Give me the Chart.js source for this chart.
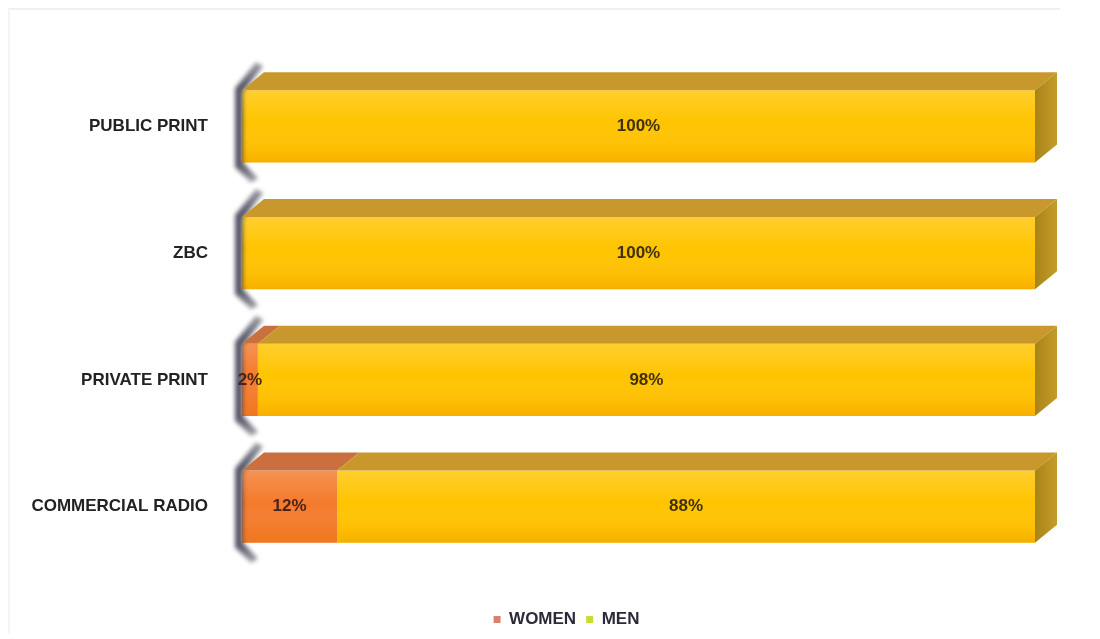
<!DOCTYPE html>
<html>
<head>
<meta charset="utf-8">
<script src="https://cdn.jsdelivr.net/npm/chart.js@4/dist/chart.umd.min.js"></script>
<style>
  html, body { margin: 0; padding: 0; background: #fff; }
  #wrap { position: relative; width: 1100px; height: 639px; }
  #frame { position: absolute; left: 8px; top: 8px; right: 40px; bottom: 6px; border-top: 2px solid #f0f0f0; border-left: 2px solid #f4f4f4; pointer-events: none; }
</style>
</head>
<body>
<div id="wrap">
  <canvas id="chart" width="1100" height="639"></canvas>
  <div id="frame"></div>
</div>
<script>
// categorie e valori (percentuali)
const categories = ['PUBLIC PRINT', 'ZBC', 'PRIVATE PRINT', 'COMMERCIAL RADIO'];
const women = [0, 0, 2, 12];
const men = [100, 100, 98, 88];

// colori delle facce 3D
const faceColors = {
  WOMEN: { front: '#f47a2c', top: '#c9703e', side: '#b85e2a', legend: '#d9826a' },
  MEN: { front: '#ffc400', top: '#c9982c', side: '#b08a1e', legend: '#c9dc30' }
};

const FONT = '"Liberation Sans", Arial, sans-serif';
const DX = 22, DY = 18;

// plugin per disegnare l'effetto 3D e le etichette
const bars3d = {
  id: 'bars3d',
  afterLayout(chart) {
    // sposto la legenda un po' a destra come nell'originale
    if (chart.legend) chart.legend.left += 84;
  },
  afterDatasetsDraw(chart) {
    const ctx = chart.ctx;
    const n = chart.data.datasets.length;

    // "muro" scuro e sfocato a sinistra
    const meta0 = chart.getDatasetMeta(0);
    meta0.data.forEach(el => {
      const top = el.y - el.height / 2;
      const bottom = el.y + el.height / 2;
      const left = Math.min(el.base, el.x);
      ctx.save();
      ctx.filter = 'blur(2px)';
      const gw = ctx.createLinearGradient(0, top - DY - 10, 0, bottom + 20);
      gw.addColorStop(0, 'rgba(80,80,95,0.55)');
      gw.addColorStop(0.2, 'rgba(70,70,88,0.9)');
      gw.addColorStop(0.85, 'rgba(70,70,88,0.9)');
      gw.addColorStop(1, 'rgba(80,80,95,0.5)');
      ctx.fillStyle = gw;
      ctx.beginPath();
      ctx.moveTo(left - 7, top - 2);
      ctx.lineTo(left + 14, top - DY - 10);
      ctx.lineTo(left + 21, top - DY - 6);
      ctx.lineTo(left + 1, top + 2);
      ctx.lineTo(left + 1, bottom);
      ctx.lineTo(left + 16, bottom + 16);
      ctx.lineTo(left + 9, bottom + 20);
      ctx.lineTo(left - 7, bottom + 5);
      ctx.closePath();
      ctx.fill();
      ctx.restore();
    });

    chart.data.datasets.forEach((ds, i) => {
      const meta = chart.getDatasetMeta(i);
      const col = faceColors[ds.label];
      meta.data.forEach((el, j) => {
        if (!ds.data[j]) return;
        const left = Math.min(el.base, el.x);
        const right = Math.max(el.base, el.x);
        const top = el.y - el.height / 2;
        const bottom = el.y + el.height / 2;

        // faccia superiore
        ctx.save();
        ctx.fillStyle = col.top;
        ctx.beginPath();
        ctx.moveTo(left, top);
        ctx.lineTo(left + DX, top - DY);
        ctx.lineTo(right + DX, top - DY);
        ctx.lineTo(right, top);
        ctx.closePath();
        ctx.fill();

        // faccia laterale solo sull'ultima serie
        if (i === n - 1) {
          const g = ctx.createLinearGradient(right, 0, right + DX, 0);
          g.addColorStop(0, '#a88418');
          g.addColorStop(1, '#c49c2a');
          ctx.fillStyle = g;
          ctx.beginPath();
          ctx.moveTo(right, top);
          ctx.lineTo(right + DX, top - DY);
          ctx.lineTo(right + DX, bottom - DY);
          ctx.lineTo(right, bottom);
          ctx.closePath();
          ctx.fill();
        }

        // sfumatura sulla faccia frontale
        const gf = ctx.createLinearGradient(0, top, 0, bottom);
        gf.addColorStop(0, 'rgba(255,255,255,0.18)');
        gf.addColorStop(0.45, 'rgba(255,255,255,0)');
        gf.addColorStop(0.85, 'rgba(230,120,0,0.12)');
        gf.addColorStop(1, 'rgba(220,110,0,0.25)');
        ctx.fillStyle = gf;
        ctx.fillRect(left, top, right - left, bottom - top);
        ctx.restore();
      });
    });

    // etichette dei valori
    ctx.save();
    ctx.font = 'bold 17px ' + FONT;
    ctx.textAlign = 'center';
    ctx.textBaseline = 'middle';
    chart.data.datasets.forEach((ds, i) => {
      const meta = chart.getDatasetMeta(i);
      meta.data.forEach((el, j) => {
        const v = ds.data[j];
        if (!v) return;
        ctx.fillStyle = i === 0 ? '#4a2418' : '#3e3008';
        ctx.fillText(v + '%', (el.base + el.x) / 2, el.y);
      });
    });
    ctx.restore();
  }
};

const ctx = document.getElementById('chart');
new Chart(ctx, {
  type: 'bar',
  data: {
    labels: categories,
    datasets: [
      { label: 'WOMEN', data: women, backgroundColor: faceColors.WOMEN.front, borderWidth: 0 },
      { label: 'MEN', data: men, backgroundColor: faceColors.MEN.front, borderWidth: 0 }
    ]
  },
  options: {
    indexAxis: 'y',
    responsive: false,
    animation: false,
    layout: { padding: { left: 14, right: 65, top: 63, bottom: 1 } },
    barPercentage: 0.57,
    categoryPercentage: 1,
    scales: {
      x: {
        stacked: true, min: 0, max: 100,
        grid: { display: false },
        border: { display: false },
        ticks: { display: false },
        afterFit(scale) { scale.height = 31; }
      },
      y: {
        stacked: true,
        grid: { display: false },
        border: { display: false },
        afterFit(scale) { scale.width = 228; },
        ticks: {
          padding: 26,
          color: '#222',
          font: { family: FONT, size: 17, weight: 'bold' }
        }
      }
    },
    plugins: {
      legend: {
        position: 'bottom',
        labels: {
          boxWidth: 7,
          boxHeight: 7,
          padding: 10,
          color: '#2a2a3a',
          font: { family: FONT, size: 17, weight: 'bold' },
          generateLabels(chart) {
            return chart.data.datasets.map((ds, i) => ({
              text: ds.label,
              fillStyle: faceColors[ds.label].legend,
              strokeStyle: faceColors[ds.label].legend,
              lineWidth: 0,
              fontColor: '#2a2a3a',
              datasetIndex: i
            }));
          }
        }
      },
      tooltip: { enabled: false }
    }
  },
  plugins: [bars3d]
});
</script>
</body>
</html>
